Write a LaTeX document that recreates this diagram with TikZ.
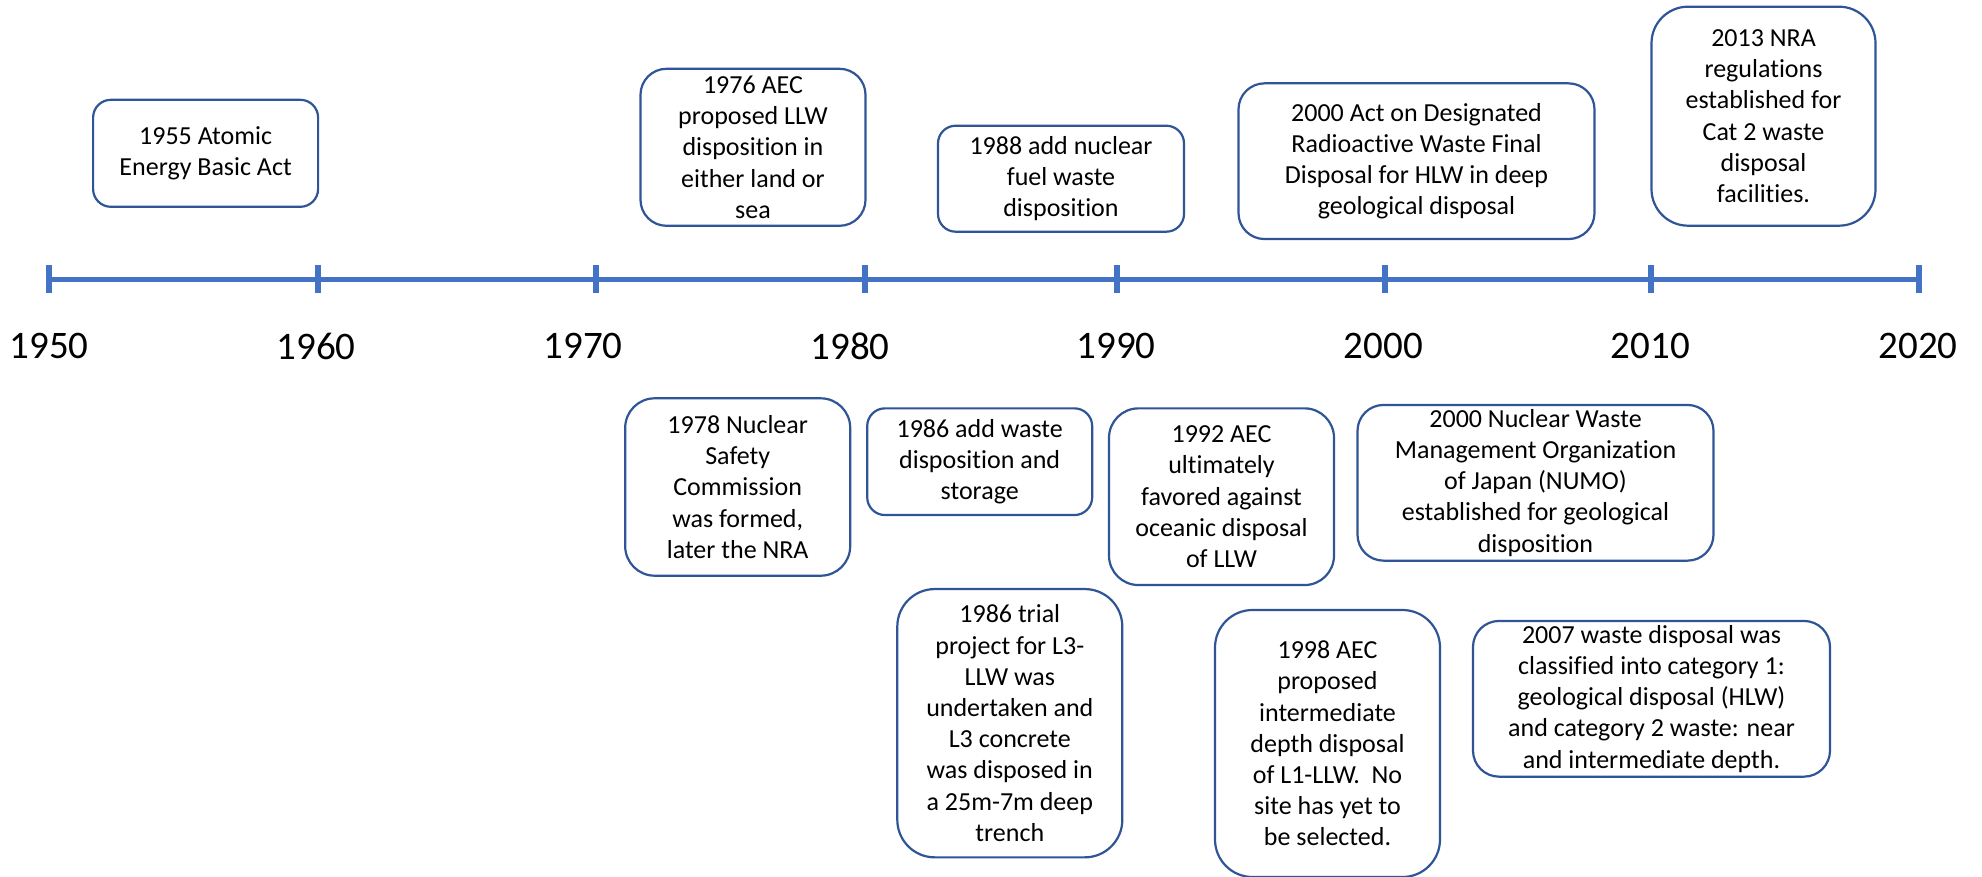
\documentclass[tikz,border=0pt]{standalone}
\usepackage{fontspec}
\setmainfont{Carlito}[Ligatures=NoCommon]
\definecolor{axisblue}{HTML}{4472C4}
\definecolor{boxblue}{HTML}{2F5597}
\newcommand{\evtfont}{\fontsize{26}{31.2}\selectfont}
\newcommand{\yearfont}{\fontsize{39}{46}\selectfont}
\begin{document}
\begin{tikzpicture}[x=1pt,y=-1pt,
  evt/.style={draw=boxblue, line width=2.2pt, fill=white, align=center,
    font=\evtfont, inner sep=0pt, text=black},
  axis/.style={draw=axisblue, line width=5.6pt},
  tickmark/.style={draw=axisblue, line width=6pt},
  yearlbl/.style={font=\yearfont, inner sep=0pt, text=black}]
\useasboundingbox (0,0) rectangle (1982,877);

% time axis
\coordinate (t1950) at (49,279.5);
\coordinate (t1960) at (318,279.5);
\coordinate (t1970) at (595.5,279.5);
\coordinate (t1980) at (865,279.5);
\coordinate (t1990) at (1117,279.5);
\coordinate (t2000) at (1384.5,279.5);
\coordinate (t2010) at (1651,279.5);
\coordinate (t2020) at (1918.5,279.5);
\draw[axis] (t1950) -- (t2020);
\foreach \t in {t1950,t1960,t1970,t1980,t1990,t2000,t2010,t2020}
  \draw[tickmark] ([yshift=14pt]\t) -- ([yshift=-14pt]\t);

% year labels
\node[yearlbl] (y1950) at (49,346) {1950};
\node[yearlbl] (y1960) at (316,346) {1960};
\node[yearlbl] (y1970) at (583,346) {1970};
\node[yearlbl] (y1980) at (850,346) {1980};
\node[yearlbl] (y1990) at (1116,346) {1990};
\node[yearlbl] (y2000) at (1383.5,346) {2000};
\node[yearlbl] (y2010) at (1650.5,346) {2010};
\node[yearlbl] (y2020) at (1918,346) {2020};

% events above the axis
\node[evt, minimum width=225pt, minimum height=107pt, rounded corners=17.8pt]
  (e1955) at (205.6,153.3) {1955 Atomic\\Energy Basic Act};
\node[evt, minimum width=225pt, minimum height=157pt, rounded corners=26pt]
  (e1976) at (753,147.3) {1976 AEC\\proposed LLW\\disposition in\\either land or\\sea};
\node[evt, minimum width=246pt, minimum height=106pt, rounded corners=17.7pt]
  (e1988) at (1061,178.7) {1988 add nuclear\\fuel waste\\disposition};
\node[evt, minimum width=356pt, minimum height=155.7pt, rounded corners=26pt]
  (e2000a) at (1416.5,161.2) {2000 Act on Designated\\Radioactive Waste Final\\Disposal for HLW in deep\\geological disposal};
\node[evt, minimum width=224pt, minimum height=219pt, rounded corners=36.5pt]
  (e2013) at (1763.5,116.2) {2013 NRA\\regulations\\established for\\Cat 2 waste\\disposal\\facilities.};

% events below the axis
\node[evt, minimum width=225pt, minimum height=177.4pt, rounded corners=29.5pt]
  (e1978) at (737.7,487) {1978 Nuclear\\Safety\\Commission\\was formed,\\later the NRA};
\node[evt, minimum width=225pt, minimum height=106.7pt, rounded corners=17.8pt]
  (e1986a) at (979.7,461.7) {1986 add waste\\disposition and\\storage};
\node[evt, minimum width=225pt, minimum height=268.3pt, rounded corners=37.5pt]
  (e1986b) at (1009.8,723.2) {1986 trial\\project for L3-\\LLW was\\undertaken and\\L3 concrete\\was disposed in\\a 25m-7m deep\\trench};
\node[evt, minimum width=225pt, minimum height=176.7pt, rounded corners=29.5pt]
  (e1992) at (1221.5,496.7) {1992 AEC\\ultimately\\favored against\\oceanic disposal\\of LLW};
\node[evt, minimum width=225pt, minimum height=267pt, rounded corners=37.5pt]
  (e1998) at (1327.5,743.5) {1998 AEC\\proposed\\intermediate\\depth disposal\\of L1-LLW.\ \ No\\site has yet to\\be selected.};
\node[evt, minimum width=356pt, minimum height=155.7pt, rounded corners=26pt]
  (e2000b) at (1535.5,482.8) {2000 Nuclear Waste\\Management Organization\\of Japan (NUMO)\\established for geological\\disposition};
\node[evt, minimum width=357pt, minimum height=155.7pt, rounded corners=26pt]
  (e2007) at (1651.5,698.8) {2007 waste disposal was\\classified into category 1:\\geological disposal (HLW)\\and category 2 waste: near\\and intermediate depth.};
\end{tikzpicture}
\end{document}
